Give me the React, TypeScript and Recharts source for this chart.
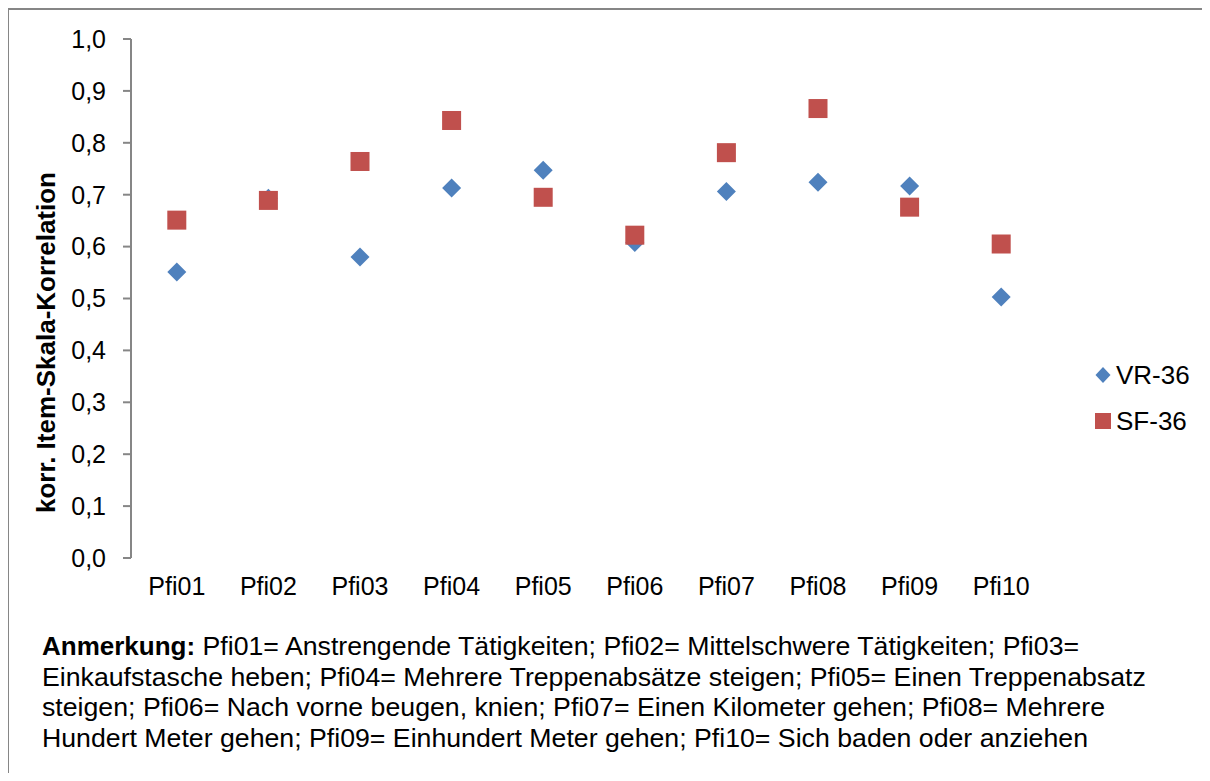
import { ScatterChart, Scatter, XAxis, YAxis, Legend } from "recharts";

const categories = ["Pfi01", "Pfi02", "Pfi03", "Pfi04", "Pfi05", "Pfi06", "Pfi07", "Pfi08", "Pfi09", "Pfi10"];
const vr36 = [0.551, 0.693, 0.58, 0.713, 0.747, 0.608, 0.706, 0.724, 0.717, 0.503];
const sf36 = [0.651, 0.689, 0.764, 0.843, 0.695, 0.622, 0.781, 0.866, 0.676, 0.605];
const yTicks = [0, 0.1, 0.2, 0.3, 0.4, 0.5, 0.6, 0.7, 0.8, 0.9, 1.0];

const noteLines = [
  ["Anmerkung:", " Pfi01= Anstrengende Tätigkeiten; Pfi02= Mittelschwere Tätigkeiten; Pfi03="],
  ["", "Einkaufstasche heben; Pfi04= Mehrere Treppenabsätze steigen; Pfi05= Einen Treppenabsatz"],
  ["", "steigen; Pfi06= Nach vorne beugen, knien; Pfi07= Einen Kilometer gehen; Pfi08= Mehrere"],
  ["", "Hundert Meter gehen; Pfi09= Einhundert Meter gehen; Pfi10= Sich baden oder anziehen"],
];

const FONT = '"Liberation Sans", Arial, sans-serif';
const BLUE = "#4F81BD";
const RED = "#C0504D";
const AXIS = "#868686";

// points sit in the middle of each category slot on a 0..10 numeric axis
const vrData = categories.map((c, i) => ({ x: i + 0.5, y: vr36[i], name: c }));
const sfData = categories.map((c, i) => ({ x: i + 0.5, y: sf36[i], name: c }));
const edgeTicks = categories.map((_, i) => i).concat(categories.length);
const midTicks = categories.map((_, i) => i + 0.5);

const Diamond = ({ cx, cy }: any) => (
  <polygon points={`${cx},${cy - 9.5} ${cx + 9.5},${cy} ${cx},${cy + 9.5} ${cx - 9.5},${cy}`} fill={BLUE} />
);

const Square = ({ cx, cy }: any) => <rect x={cx - 9.5} y={cy - 9.5} width={19} height={19} fill={RED} />;

const renderLegend = () => (
  <div style={{ fontFamily: FONT, fontSize: 26, color: "#000" }}>
    <div style={{ display: "flex", alignItems: "center", height: 46 }}>
      <svg width={18} height={18} style={{ marginRight: 4 }}>
        <polygon points="9,1 16.5,9 9,17 1.5,9" fill={BLUE} />
      </svg>
      VR-36
    </div>
    <div style={{ display: "flex", alignItems: "center", height: 46 }}>
      <svg width={18} height={18} style={{ marginRight: 4 }}>
        <rect x={1} y={1} width={16} height={16} fill={RED} />
      </svg>
      SF-36
    </div>
  </div>
);

const AxisTitle = ({ viewBox }: any) => {
  const x = viewBox.x + 38;
  const y = viewBox.y + viewBox.height / 2 + 44;
  return (
    <text
      x={x}
      y={y}
      transform={`rotate(-90, ${x}, ${y})`}
      textAnchor="middle"
      dy="0.36em"
      fontFamily={FONT}
      fontSize={26}
      fontWeight="bold"
      fill="#000"
    >
      korr. Item-Skala-Korrelation
    </text>
  );
};

export default function App() {
  return (
    <div
      style={{
        position: "relative",
        width: 1203,
        height: 765,
        background: "#fff",
        borderTop: `2px solid ${AXIS}`,
        borderLeft: `2px solid ${AXIS}`,
        boxSizing: "border-box",
        marginLeft: -1,
        overflow: "hidden",
      }}
    >
      <div style={{ position: "absolute", left: -1, top: -2 }}>
        <ScatterChart width={1210} height={600} margin={{ top: 31, right: 71, left: 0, bottom: 10 }}>
          <XAxis
            xAxisId="edge"
            type="number"
            dataKey="x"
            domain={[0, 10]}
            ticks={edgeTicks}
            interval={0}
            tick={false}
            tickSize={7}
            height={0}
            stroke={AXIS}
            strokeWidth={2}
          />
          <XAxis
            xAxisId="cat"
            type="number"
            dataKey="x"
            domain={[0, 10]}
            ticks={midTicks}
            interval={0}
            axisLine={false}
            tickLine={false}
            tickSize={0}
            tickMargin={19}
            height={40}
            tickFormatter={(v: number) => categories[Math.floor(v)]}
            tick={{ fill: "#000", fontSize: 25, fontFamily: FONT }}
          />
          <YAxis
            type="number"
            dataKey="y"
            domain={[0, 1]}
            ticks={yTicks}
            interval={0}
            width={123}
            tickSize={8}
            tickMargin={17}
            stroke={AXIS}
            strokeWidth={2}
            tickFormatter={(v: number) => v.toFixed(1).replace(".", ",")}
            tick={{ fill: "#000", fontSize: 25, fontFamily: FONT }}
            label={<AxisTitle />}
          />
          <Legend
            layout="vertical"
            align="right"
            verticalAlign="middle"
            content={renderLegend}
            wrapperStyle={{ position: "absolute", left: 1086, top: 344, width: 100 }}
          />
          <Scatter name="VR-36" data={vrData} xAxisId="cat" shape={<Diamond />} isAnimationActive={false} />
          <Scatter name="SF-36" data={sfData} xAxisId="cat" shape={<Square />} isAnimationActive={false} />
        </ScatterChart>
      </div>
      <div
        style={{
          position: "absolute",
          left: 33,
          top: 621,
          fontFamily: FONT,
          fontSize: 26.7,
          lineHeight: "30.5px",
          color: "#000",
          whiteSpace: "nowrap",
        }}
      >
        {noteLines.map(([bold, rest], i) => (
          <div key={i}>
            {bold && <b style={{ fontSize: 26 }}>{bold}</b>}
            {rest}
          </div>
        ))}
      </div>
    </div>
  );
}
